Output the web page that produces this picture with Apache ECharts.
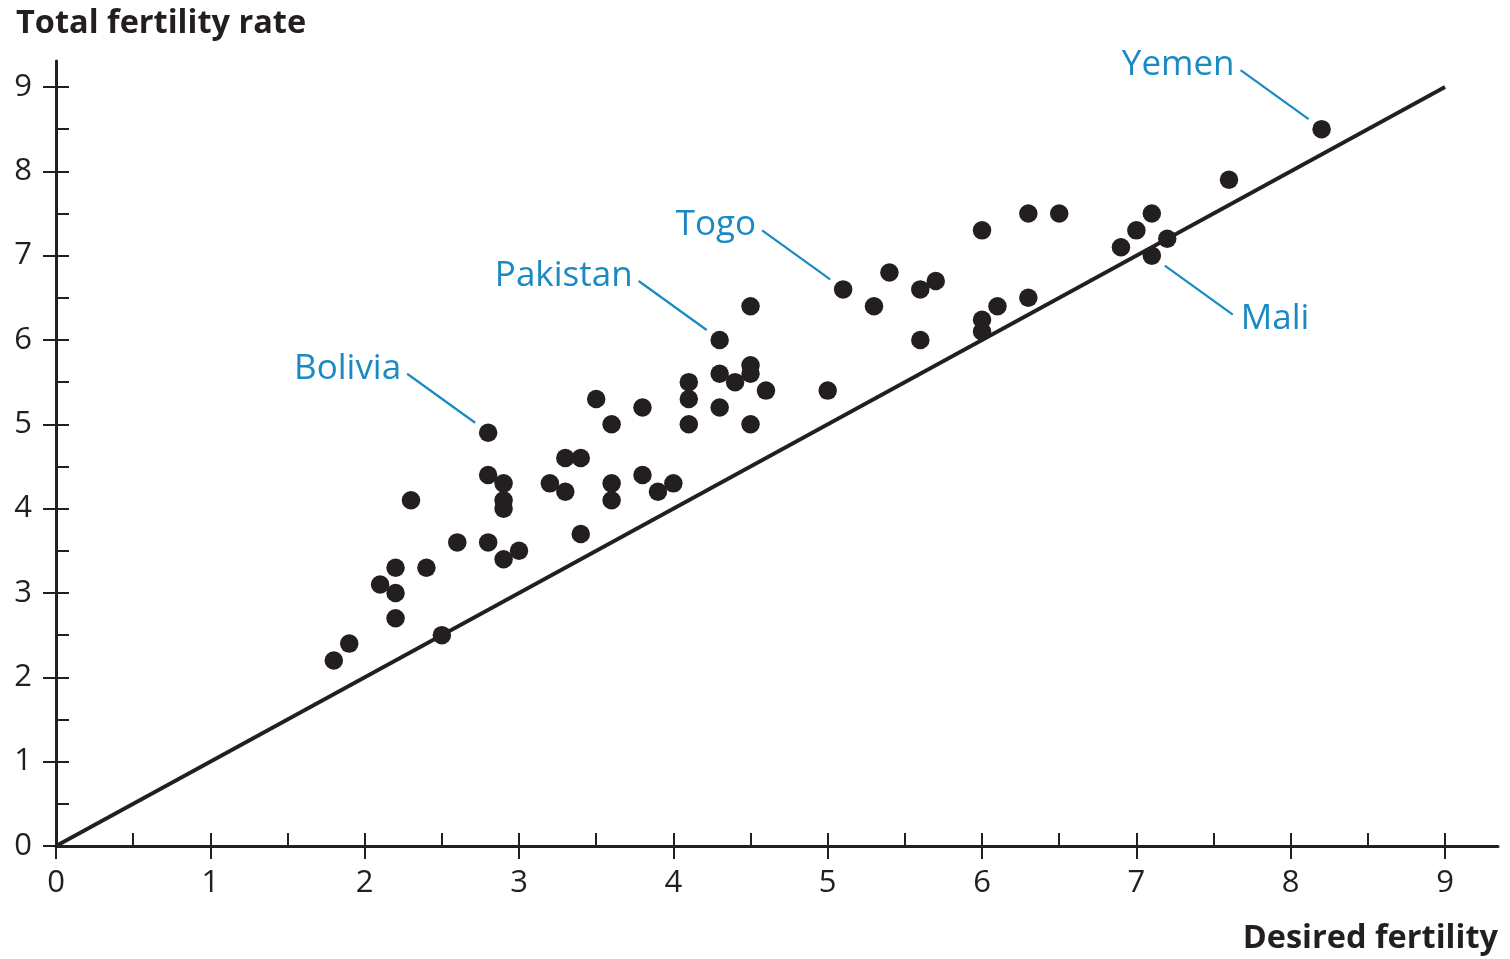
<!DOCTYPE html>
<html>
<head>
<meta charset="utf-8">
<script src="https://cdn.jsdelivr.net/npm/echarts@6/dist/echarts.min.js"></script>
<style>
  html, body { margin: 0; padding: 0; background: #ffffff; }
  #chart { width: 1510px; height: 959px; }
</style>
</head>
<body>
<div id="chart"></div>
<script>
// ---- data ----
var desiredFertility = [1.8, 1.9, 2.1, 2.2, 2.2, 2.2, 2.3, 2.4, 2.5, 2.6,
  2.8, 2.8, 2.8, 2.9, 2.9, 2.9, 2.9, 3.0, 3.2, 3.3,
  3.3, 3.4, 3.4, 3.5, 3.6, 3.6, 3.6, 3.8, 3.8, 3.9,
  4.0, 4.1, 4.1, 4.1, 4.3, 4.3, 4.3, 4.4, 4.5, 4.5,
  4.5, 4.5, 4.6, 5.0, 5.1, 5.3, 5.4, 5.6, 5.6, 5.7,
  6.0, 6.0, 6.0, 6.1, 6.3, 6.3, 6.5, 6.9, 7.0, 7.1,
  7.1, 7.2, 7.6, 8.2];
var totalFertility = [2.2, 2.4, 3.1, 3.3, 3.0, 2.7, 4.1, 3.3, 2.5, 3.6,
  4.9, 4.4, 3.6, 4.3, 4.1, 4.0, 3.4, 3.5, 4.3, 4.6,
  4.2, 4.6, 3.7, 5.3, 5.0, 4.3, 4.1, 5.2, 4.4, 4.2,
  4.3, 5.5, 5.3, 5.0, 6.0, 5.6, 5.2, 5.5, 6.4, 5.7,
  5.6, 5.0, 5.4, 5.4, 6.6, 6.4, 6.8, 6.6, 6.0, 6.7,
  7.3, 6.24, 6.1, 6.4, 7.5, 6.5, 7.5, 7.1, 7.3, 7.5,
  7.0, 7.2, 7.9, 8.5];

// labelled countries
var labelNames = ['Bolivia', 'Pakistan', 'Togo', 'Yemen', 'Mali'];
var labelDesired = [2.8, 4.3, 5.1, 8.2, 7.1];
var labelTotal = [4.9, 6.0, 6.6, 8.5, 7.0];
var labelSide = [-1, -1, -1, -1, 1]; // -1: label up-left, 1: label down-right

// 45-degree reference line
var lineDesired = [0, 9];
var lineTotal = [0, 9];

// axis ticks / labels
var tickLabels = [0, 1, 2, 3, 4, 5, 6, 7, 8, 9];
var halfTicks = [0, 0.5, 1, 1.5, 2, 2.5, 3, 3.5, 4, 4.5, 5, 5.5, 6, 6.5, 7, 7.5, 8, 8.5, 9];

var titleY = 'Total fertility rate';
var titleX = 'Desired fertility';

// ---- build ----
var points = desiredFertility.map(function (x, i) { return [x, totalFertility[i]]; });
var refLine = lineDesired.map(function (x, i) { return [x, lineTotal[i]]; });
var annots = labelNames.map(function (n, i) { return [labelDesired[i], labelTotal[i], labelSide[i], n]; });

var INK = '#231f20';
var BLUE = '#1b8ac3';
var FONT = '"Open Sans", "Noto Sans", sans-serif';
var X_MAX = 9.343, Y_MAX = 9.308;

function mainAxis(max, isX) {
  return {
    type: 'value', min: 0, max: max,
    position: isX ? 'bottom' : 'left',
    axisLine: { show: true, onZero: false, lineStyle: { color: INK, width: 3 } },
    axisTick: { show: true, inside: true, length: 13, customValues: halfTicks,
      lineStyle: { color: INK, width: 2 } },
    axisLabel: { show: true, customValues: tickLabels, margin: isX ? 22 : 24,
      color: INK, fontSize: 31, fontFamily: FONT },
    splitLine: { show: false }
  };
}
function outerAxis(max, isX) {
  return {
    type: 'value', min: 0, max: max,
    position: isX ? 'bottom' : 'left',
    axisLine: { show: false, onZero: false },
    axisTick: { show: true, inside: false, length: 13, customValues: tickLabels,
      lineStyle: { color: INK, width: 2 } },
    axisLabel: { show: false },
    splitLine: { show: false }
  };
}

var option = {
  backgroundColor: '#ffffff',
  animation: false,
  title: [
    { text: titleY, left: 11, top: 2,
      textStyle: { color: INK, fontSize: 32.5, fontWeight: 'bold', fontFamily: FONT } },
    { text: titleX, right: 7, top: 917,
      textStyle: { color: INK, fontSize: 32.5, fontWeight: 'bold', fontFamily: FONT } }
  ],
  grid: { left: 56, right: 12, top: 61, bottom: 113, containLabel: false },
  xAxis: [mainAxis(X_MAX, true), outerAxis(X_MAX, true)],
  yAxis: [mainAxis(Y_MAX, false), outerAxis(Y_MAX, false)],
  series: [
    {
      type: 'line', data: refLine, symbol: 'none', z: 1,
      lineStyle: { color: INK, width: 3.8 }
    },
    {
      type: 'scatter', data: points, symbol: 'circle', symbolSize: 18.5, z: 3,
      itemStyle: { color: INK, opacity: 1 }
    },
    {
      type: 'custom', data: annots, z: 4,
      renderItem: function (params, api) {
        var p = api.coord([api.value(0), api.value(1)]);
        var s = api.value(2);
        var x1 = p[0] + s * 13, y1 = p[1] + s * 10;
        var x2 = p[0] + s * 81, y2 = p[1] + s * 59;
        var txt = annots[params.dataIndex][3];
        return {
          type: 'group',
          children: [
            { type: 'line', shape: { x1: x1, y1: y1, x2: x2, y2: y2 },
              style: { stroke: BLUE, lineWidth: 2.2 } },
            { type: 'text',
              style: { text: txt, x: s < 0 ? x2 - 6 : x2 + 8, y: s < 0 ? y2 - 5 : y2 + 4,
                align: s < 0 ? 'right' : 'left', verticalAlign: 'middle',
                fill: BLUE, fontSize: 35, fontFamily: FONT } }
          ]
        };
      }
    }
  ]
};

var chart = echarts.init(document.getElementById('chart'), null, { renderer: 'canvas' });
chart.setOption(option);
</script>
</body>
</html>
